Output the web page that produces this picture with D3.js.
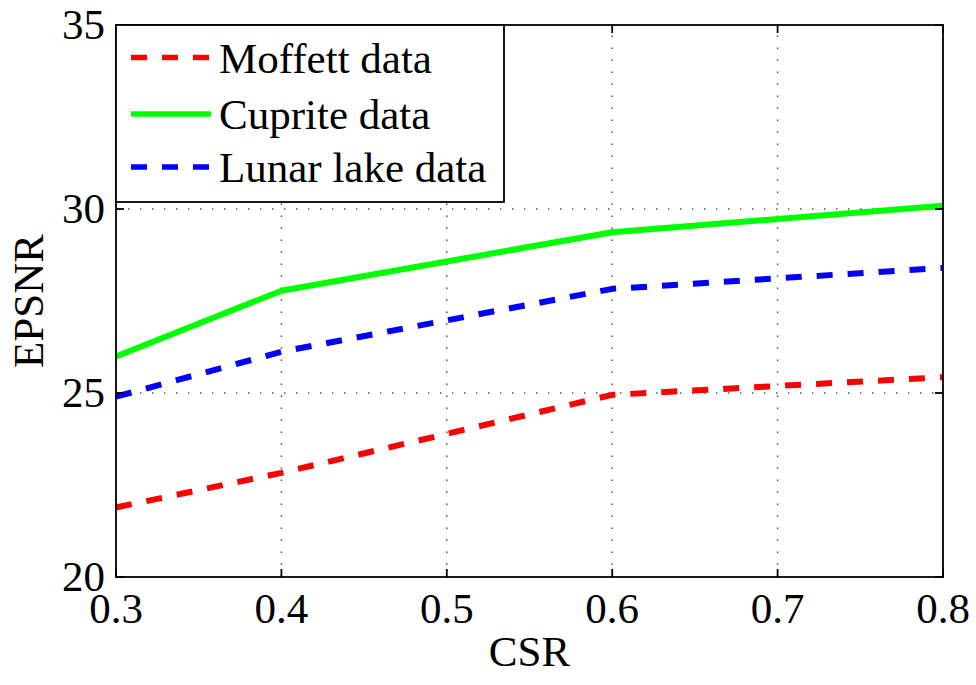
<!DOCTYPE html>
<html>
<head>
<meta charset="utf-8">
<script src="https://cdn.jsdelivr.net/npm/d3@7"></script>
<style>
  html, body { margin: 0; padding: 0; background: #fff; }
  svg { display: block; }
  text { font-family: "Liberation Serif", "Times New Roman", serif; fill: #000; }
</style>
</head>
<body>
<svg id="chart" width="976" height="685"></svg>
<script>
// Compression sampling ratio on the x axis
const csr = [0.3, 0.4, 0.6, 0.8];
// EPSNR (dB) for each data set
const moffett = [21.89, 22.83, 24.95, 25.43];
const cuprite = [25.99, 27.78, 29.37, 30.09];
const lunar = [24.90, 26.12, 27.83, 28.40];

const xTicks = [0.3, 0.4, 0.5, 0.6, 0.7, 0.8];
const yTicks = [20, 25, 30, 35];

const seriesNames = ["Moffett data", "Cuprite data", "Lunar lake data"];
const seriesColors = ["#ff0000", "#00ff00", "#0000ff"];
const seriesDash = ["16,15", null, "16,15"];
const seriesValues = [moffett, cuprite, lunar];

const svg = d3.select("#chart");
const margin = { left: 116, right: 33, top: 25, bottom: 108 };
const W = 976, H = 685;
const x = d3.scaleLinear().domain([0.3, 0.8]).range([margin.left, W - margin.right]);
const y = d3.scaleLinear().domain([20, 35]).range([H - margin.bottom, margin.top]);
const x0 = x.range()[0], x1 = x.range()[1];
const y0 = y.range()[0], y1 = y.range()[1];

// dotted grid
const grid = svg.append("g")
  .attr("stroke", "#555").attr("stroke-width", 1.5).attr("stroke-dasharray", "1.5,10.5");
grid.selectAll("line.gx").data(xTicks.filter(t => t > 0.3 && t < 0.8)).join("line")
  .attr("x1", d => x(d)).attr("x2", d => x(d)).attr("y1", y0).attr("y2", y1);
grid.selectAll("line.gy").data(yTicks.filter(t => t > 20 && t < 35)).join("line")
  .attr("y1", d => y(d)).attr("y2", d => y(d)).attr("x1", x0).attr("x2", x1);

// data lines
const line = d3.line().x((d, i) => x(csr[i])).y(d => y(d));
seriesValues.forEach((vals, k) => {
  svg.append("path")
    .datum(vals)
    .attr("d", line)
    .attr("fill", "none")
    .attr("stroke", seriesColors[k])
    .attr("stroke-width", 6)
    .attr("stroke-linejoin", "round")
    .attr("stroke-dasharray", seriesDash[k]);
});

// axes box with inward ticks on all four sides
const tickLen = 8;
const axisG = svg.append("g").attr("stroke", "#000").attr("stroke-width", 1.8);
axisG.append("rect").attr("x", x0).attr("y", y1).attr("width", x1 - x0).attr("height", y0 - y1)
  .attr("fill", "none");
xTicks.forEach(t => {
  axisG.append("line").attr("x1", x(t)).attr("x2", x(t)).attr("y1", y0).attr("y2", y0 - tickLen);
  axisG.append("line").attr("x1", x(t)).attr("x2", x(t)).attr("y1", y1).attr("y2", y1 + tickLen);
});
yTicks.forEach(t => {
  axisG.append("line").attr("y1", y(t)).attr("y2", y(t)).attr("x1", x0).attr("x2", x0 + tickLen);
  axisG.append("line").attr("y1", y(t)).attr("y2", y(t)).attr("x1", x1).attr("x2", x1 - tickLen);
});

// tick labels
const fs = 43;
svg.append("g").selectAll("text").data(xTicks).join("text")
  .attr("x", d => x(d)).attr("y", y0 + 46)
  .attr("text-anchor", "middle").attr("font-size", fs)
  .text(d => d3.format(".1f")(d));
svg.append("g").selectAll("text").data(yTicks).join("text")
  .attr("x", x0 - 11).attr("y", d => y(d) + 14)
  .attr("text-anchor", "end").attr("font-size", fs)
  .text(d => d);

// axis titles
svg.append("text").attr("x", (x0 + x1) / 2).attr("y", 666)
  .attr("text-anchor", "middle").attr("font-size", fs).text("CSR");
svg.append("text").attr("transform", `translate(43,${(y0 + y1) / 2}) rotate(-90)`)
  .attr("text-anchor", "middle").attr("font-size", fs).text("EPSNR");

// legend
const lg = svg.append("g");
lg.append("rect").attr("x", x0).attr("y", y1).attr("width", 388).attr("height", 177)
  .attr("fill", "#fff").attr("stroke", "#000").attr("stroke-width", 1.8);
const rowY = [57.5, 114, 167];
seriesNames.forEach((name, k) => {
  lg.append("line")
    .attr("x1", 131).attr("x2", 211).attr("y1", rowY[k]).attr("y2", rowY[k])
    .attr("stroke", seriesColors[k]).attr("stroke-width", 5.5)
    .attr("stroke-dasharray", seriesDash[k]);
  lg.append("text").attr("x", 219).attr("y", rowY[k] + 15)
    .attr("font-size", fs).text(name);
});
</script>
</body>
</html>
